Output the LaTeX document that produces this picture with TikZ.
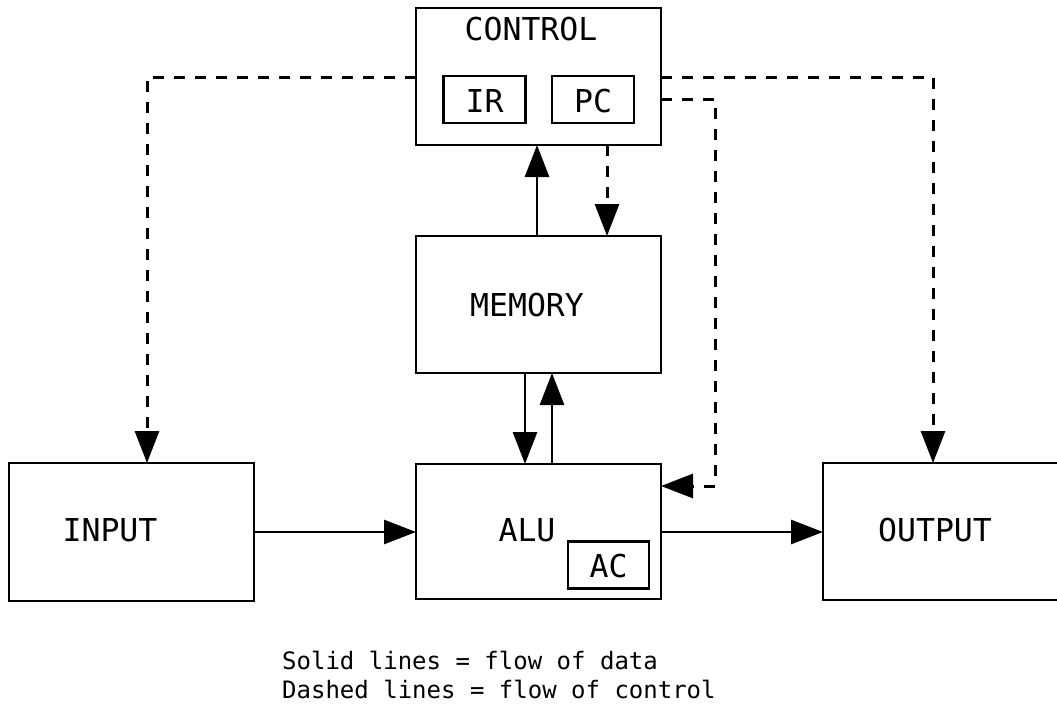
\documentclass[tikz,border=0pt]{standalone}
\usepackage{fontspec}
\setmonofont{DejaVu Sans Mono}
\usetikzlibrary{arrows.meta}
\begin{document}
\begin{tikzpicture}[x=1pt,y=-1pt,
  box/.style={draw, line width=2.8pt, minimum width=245pt, inner sep=0pt, outer sep=0pt},
  small/.style={draw, line width=2.8pt, inner sep=0pt, outer sep=0pt, minimum width=82pt, minimum height=47pt},
  lbl/.style={font=\ttfamily\fontsize{31.5}{34}\selectfont, inner sep=0pt},
  data/.style={line width=2.8pt, -{Triangle[length=32pt,width=24pt]}},
  ctl/.style={line width=3pt, dash pattern=on 11pt off 10pt, -{Triangle[length=32pt,width=24pt]}}]
\useasboundingbox (0,0) rectangle (1057,709);
\clip (0,0) rectangle (1057,709);
\fill[white] (0,0) rectangle (1057,709);

% main units
\node[box, minimum height=137pt] (control) at (538.5,76.5) {};
\node[box, minimum height=137pt] (memory) at (538.5,304.5) {};
\node[box, minimum height=135pt] (alu) at (538.5,531.5) {};
\node[box, minimum height=138pt] (input) at (131.5,532) {};
\node[box, minimum height=137pt] (output) at (945.5,531.5) {};

% registers
\node[small] (ir) at (484.5,99.5) {};
\node[small] (pc) at (593,99.5) {};
\node[small, minimum width=81pt] (ac) at (608.5,565) {};

% labels
\node[lbl] (tcontrol) at (531,29) {CONTROL};
\node[lbl] (tir) at (484.5,101) {IR};
\node[lbl] (tpc) at (593,101) {PC};
\node[lbl] (tmemory) at (527,305) {MEMORY};
\node[lbl] (talu) at (527,530) {ALU};
\node[lbl] (tac) at (608.5,566) {AC};
\node[lbl] (tinput) at (110,530) {INPUT};
\node[lbl] (toutput) at (935,530) {OUTPUT};

% legend
\node[font=\ttfamily\fontsize{24}{29}\selectfont, align=left, anchor=north west, inner sep=0pt] (legend) at (282,651)
  {Solid lines = flow of data\\Dashed lines = flow of control};

% routing points
\coordinate (cl) at (control.west |- 0,77);
\coordinate (cr) at (control.east |- 0,77);
\coordinate (cpc) at (control.east |- 0,99);
\coordinate (bend) at (715,99);
\coordinate (alupc) at (alu.east |- 0,486);
\coordinate (inTop) at (147,0);
\coordinate (outTop) at (933,0);

% control flow
\draw[ctl] (cl) -| (inTop |- input.north);
\draw[ctl] (cr) -| (outTop |- output.north);
\draw[ctl] (cpc) -- (bend) |- (alupc);
\draw[ctl] (control.south -| 607,0) -- (memory.north -| 607,0);

% data flow
\draw[data] (memory.north -| 537,0) -- (control.south -| 537,0);
\draw[data] (memory.south -| 525,0) -- (alu.north -| 525,0);
\draw[data] (alu.north -| 552,0) -- (memory.south -| 552,0);
\draw[data] (input.east |- 0,532) -- (alu.west |- 0,532);
\draw[data] (alu.east |- 0,532) -- (output.west |- 0,532);
\end{tikzpicture}
\end{document}
